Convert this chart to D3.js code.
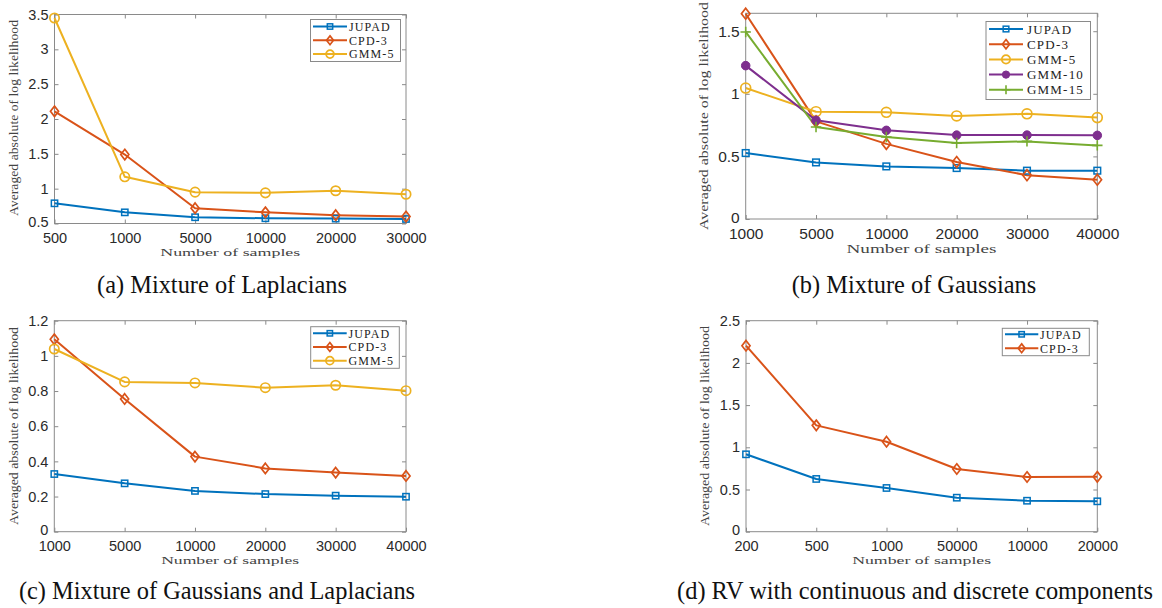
<!DOCTYPE html>
<html><head><meta charset="utf-8">
<script src="https://cdn.jsdelivr.net/npm/d3@7"></script>
<style>
html,body{margin:0;padding:0;background:#fff;}
svg{display:block;}
</style></head>
<body>
<svg id="chart" width="1162" height="608"></svg>
<script>
// ---------- data ----------
const seriesNames = ["JUPAD","CPD-3","GMM-5","GMM-10","GMM-15"];
const seriesColors = ["#0072BD","#D95319","#EDB120","#7E2F8E","#77AC30"];
const seriesMarkers = ["square","diamond","circle","dot","plus"];

// (a) Mixture of Laplacians
const xA = ["500","1000","5000","10000","20000","30000"];
const aJUPAD = [0.79,0.66,0.59,0.575,0.57,0.565];
const aCPD3  = [2.11,1.49,0.72,0.66,0.62,0.60];
const aGMM5  = [3.45,1.17,0.95,0.94,0.97,0.92];
const yTicksA = [0.5,1,1.5,2,2.5,3,3.5];

// (b) Mixture of Gaussians
const xB = ["1000","5000","10000","20000","30000","40000"];
const bJUPAD = [0.527,0.452,0.42,0.407,0.386,0.386];
const bCPD3  = [1.64,0.78,0.60,0.455,0.35,0.314];
const bGMM5  = [1.046,0.857,0.852,0.823,0.84,0.81];
const bGMM10 = [1.225,0.788,0.708,0.67,0.67,0.668];
const bGMM15 = [1.494,0.735,0.655,0.607,0.62,0.588];
const yTicksB = [0,0.5,1,1.5];

// (c) Mixture of Gaussians and Laplacians
const xC = ["1000","5000","10000","20000","30000","40000"];
const cJUPAD = [0.328,0.275,0.232,0.214,0.205,0.199];
const cCPD3  = [1.094,0.755,0.427,0.36,0.336,0.317];
const cGMM5  = [1.039,0.852,0.846,0.819,0.833,0.802];
const yTicksC = [0,0.2,0.4,0.6,0.8,1,1.2];

// (d) RV with continuous and discrete components
const xD = ["200","500","1000","50000","10000","20000"];
const dJUPAD = [0.917,0.625,0.518,0.403,0.367,0.36];
const dCPD3  = [2.204,1.26,1.066,0.743,0.648,0.65];
const yTicksD = [0,0.5,1,1.5,2,2.5];

const captions = ["(a) Mixture of Laplacians","(b) Mixture of Gaussians",
  "(c) Mixture of Gaussians and Laplacians","(d) RV with continuous and discrete components"];
const xTitle = "Number of samples";
const yTitle = "Averaged absolute of log likelihood";

// ---------- drawing ----------
const svg = d3.select("#chart");
const AXC = "#8a8a8a";

function marker(g, type, color, s) {
  if (type === "square") {
    g.append("rect").attr("x",-s*0.35).attr("y",-s*0.35).attr("width",s*0.7).attr("height",s*0.7)
      .attr("fill","none").attr("stroke",color).attr("stroke-width",1.5);
  } else if (type === "diamond") {
    const h = s*0.58, w = s*0.45;
    g.append("path").attr("d",`M0,${-h}L${w},0L0,${h}L${-w},0Z`)
      .attr("fill","none").attr("stroke",color).attr("stroke-width",1.7);
  } else if (type === "circle") {
    g.append("circle").attr("r",s*0.52).attr("fill","none").attr("stroke",color).attr("stroke-width",1.7);
  } else if (type === "dot") {
    g.append("circle").attr("r",s*0.45).attr("fill",color).attr("stroke",color).attr("stroke-width",1);
  } else if (type === "plus") {
    const a = s*0.55;
    g.append("path").attr("d",`M${-a},0H${a}M0,${-a}V${a}`).attr("stroke",color).attr("stroke-width",1.6);
  }
}

function panel(o) {
  const g = svg.append("g");
  const x = d3.scalePoint().domain(o.cats).range([o.x0,o.x1]).padding(0);
  const y = d3.scaleLinear().domain(o.domain).range([o.yb,o.yt]);
  const fmt = d => String(d);
  g.append("rect").attr("x",o.x0).attr("y",o.yt).attr("width",o.x1-o.x0).attr("height",o.yb-o.yt)
    .attr("fill","none").attr("stroke",AXC).attr("stroke-width",1);
  const tickStyle = sel => {
    sel.select(".domain").remove();
    sel.selectAll(".tick line").attr("stroke",AXC);
    sel.selectAll(".tick text").attr("fill","#2a2a2a").attr("font-family","Liberation Sans, Arial, sans-serif").attr("font-size",o.tfs);
  };
  g.append("g").attr("transform",`translate(0,${o.yb})`)
    .call(d3.axisBottom(x).tickSizeInner(-4).tickSizeOuter(0).tickPadding(o.xpad)).call(tickStyle);
  g.append("g").attr("transform",`translate(0,${o.yt})`)
    .call(d3.axisTop(x).tickSizeInner(-4).tickSizeOuter(0).tickFormat("")).call(tickStyle);
  const ya = g.append("g").attr("transform",`translate(${o.x0},0)`)
    .call(d3.axisLeft(y).tickValues(o.yticks).tickFormat(fmt).tickSizeInner(-4).tickSizeOuter(0).tickPadding(6)).call(tickStyle);
  // lowest y label sits just above the first x label
  ya.selectAll(".tick").filter(d => d === o.domain[0]).select("text").attr("y",-1.5);
  g.append("g").attr("transform",`translate(${o.x1},0)`)
    .call(d3.axisRight(y).tickValues(o.yticks).tickFormat("").tickSizeInner(-4).tickSizeOuter(0)).call(tickStyle);
  // axis titles
  g.append("text").attr("x",(o.x0+o.x1)/2).attr("y",o.yb+o.xtDy).attr("text-anchor","middle")
    .attr("font-family","Liberation Serif, Times New Roman, serif").attr("font-size",o.afs).attr("fill","#444")
    .attr("textLength",o.xtLen).attr("lengthAdjust","spacingAndGlyphs").text(xTitle);
  g.append("text").attr("transform",`translate(${o.ytX},${o.ytY}) rotate(-90)`).attr("text-anchor","middle")
    .attr("font-family","Liberation Serif, Times New Roman, serif").attr("font-size",o.afs+1).attr("fill","#444")
    .attr("textLength",o.ytLen).attr("lengthAdjust","spacingAndGlyphs").text(yTitle);
  // series
  const line = d3.line().x((d,i)=>x(o.cats[i])).y(d=>y(d));
  o.series.forEach(s => {
    g.append("path").datum(s.values).attr("d",line).attr("fill","none")
      .attr("stroke",seriesColors[s.k]).attr("stroke-width",2).attr("stroke-linejoin","round");
  });
  o.series.forEach(s => {
    s.values.forEach((v,i) => {
      const mg = g.append("g").attr("transform",`translate(${x(o.cats[i])},${y(v)})`);
      marker(mg, seriesMarkers[s.k], seriesColors[s.k], o.ms);
    });
  });
  // legend
  const L = o.leg;
  g.append("rect").attr("x",L.x).attr("y",L.y).attr("width",L.w).attr("height",L.h)
    .attr("fill","#fff").attr("stroke",AXC).attr("stroke-width",1);
  o.series.forEach((s,j) => {
    const cy = L.r0 + j*L.dr;
    g.append("line").attr("x1",L.l0).attr("x2",L.l1).attr("y1",cy).attr("y2",cy)
      .attr("stroke",seriesColors[s.k]).attr("stroke-width",2);
    const mg = g.append("g").attr("transform",`translate(${(L.l0+L.l1)/2},${cy})`);
    marker(mg, seriesMarkers[s.k], seriesColors[s.k], o.ms*0.85);
    g.append("text").attr("x",L.tx).attr("y",cy+L.fs*0.35)
      .attr("font-family","Liberation Serif, Times New Roman, serif").attr("font-size",L.fs).attr("fill","#222")
      .attr("letter-spacing",L.ls).text(seriesNames[s.k]);
  });
}

panel({x0:54.5,x1:406,yt:14.5,yb:223.5,domain:[0.5,3.5],cats:xA,yticks:yTicksA,tfs:14.5,afs:11,xpad:9,
  xtDy:32,xtLen:140,ytX:18,ytY:118,ytLen:196,ms:9,
  series:[{k:0,values:aJUPAD},{k:1,values:aCPD3},{k:2,values:aGMM5}],
  leg:{x:310.5,y:19.5,w:90,h:42,r0:26.5,dr:13.8,l0:313,l1:347,tx:349,fs:12,ls:1.1}});

panel({x0:745.7,x1:1097.3,yt:13.3,yb:219,domain:[0,1.643],cats:xB,yticks:yTicksB,tfs:15.5,afs:12,xpad:9,
  xtDy:34,xtLen:150,ytX:708,ytY:116,ytLen:228,ms:9.5,
  series:[{k:0,values:bJUPAD},{k:1,values:bCPD3},{k:2,values:bGMM5},{k:3,values:bGMM10},{k:4,values:bGMM15}],
  leg:{x:986,y:21.5,w:104.5,h:78,r0:29,dr:15.2,l0:989,l1:1023,tx:1027,fs:13,ls:1.2}});

panel({x0:54.3,x1:406,yt:320.7,yb:531.7,domain:[0,1.2],cats:xC,yticks:yTicksC,tfs:14.5,afs:11,xpad:9,
  xtDy:32,xtLen:138,ytX:18,ytY:426,ytLen:198,ms:9,
  series:[{k:0,values:cJUPAD},{k:1,values:cCPD3},{k:2,values:cGMM5}],
  leg:{x:310.7,y:326.7,w:88.6,h:41.6,r0:333.3,dr:13.7,l0:313,l1:346.7,tx:348.5,fs:12,ls:1.1}});

panel({x0:746,x1:1097.3,yt:320.7,yb:531.7,domain:[0,2.5],cats:xD,yticks:yTicksD,tfs:14.5,afs:11,xpad:9,
  xtDy:32,xtLen:139,ytX:709,ytY:426,ytLen:200,ms:9,
  series:[{k:0,values:dJUPAD},{k:1,values:dCPD3}],
  leg:{x:1002.3,y:328.3,w:87,h:27.4,r0:334.3,dr:14,l0:1005,l1:1038.3,tx:1040,fs:12,ls:1.1}});

// captions
const capPos = [[222,292.5],[914,292.5],[217,598.5],[915,598.5]];
captions.forEach((c,i) => {
  svg.append("text").attr("x",capPos[i][0]).attr("y",capPos[i][1]).attr("text-anchor","middle")
    .attr("font-family","Liberation Serif, Times New Roman, serif").attr("font-size",24.4).attr("fill","#111")
    .text(c);
});
</script>
</body></html>
